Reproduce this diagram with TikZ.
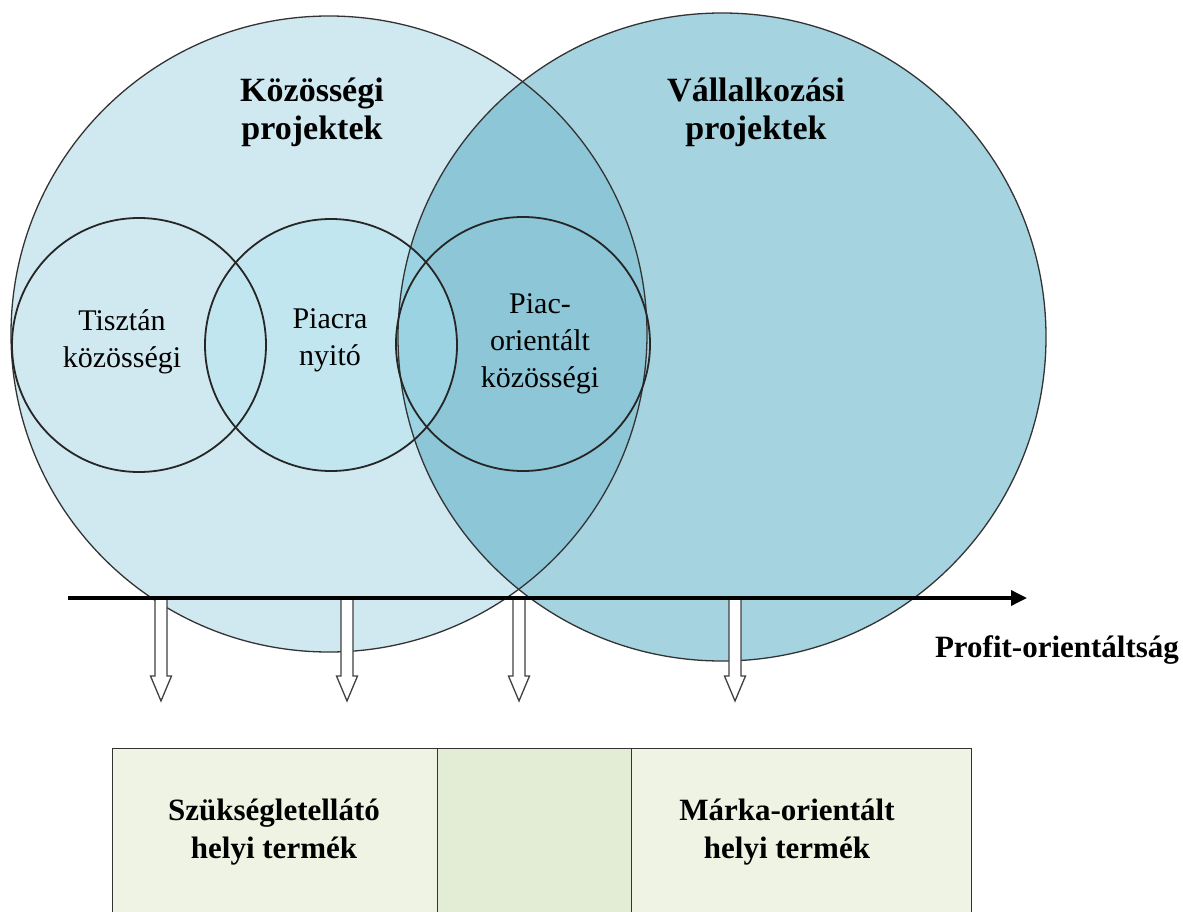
\documentclass[tikz,border=0pt]{standalone}
\usepackage{fontspec}
\setmainfont{Liberation Serif}
\usetikzlibrary{arrows.meta}
\definecolor{leftc}{HTML}{D0E8EF}
\definecolor{rightc}{HTML}{A6D3E0}
\definecolor{bothc}{HTML}{8CC6D7}
\definecolor{nyitoc}{RGB}{177,228,239}
\definecolor{boxa}{RGB}{239,243,227}
\definecolor{boxb}{RGB}{227,236,213}
\begin{document}
\begin{tikzpicture}[x=1pt,y=-1pt,
  bigline/.style={draw=black!80, line width=1.3pt},
  smallline/.style={draw=black!85, line width=1.8pt},
  lbl/.style={font=\fontsize{30}{37}\selectfont, align=center, inner sep=0pt},
  headlbl/.style={font=\bfseries\fontsize{34}{38}\selectfont, align=center, inner sep=0pt},
  boldlbl/.style={font=\bfseries\fontsize{31}{38}\selectfont, align=center, inner sep=0pt},
  hollow/.style={draw=black!75, line width=1.3pt, fill=white, line join=miter},
  boxstyle/.style={draw=black!80, line width=1.3pt, anchor=north west, inner sep=0pt, minimum height=220pt},
  downarrow/.pic={\draw[hollow] (-6,0) -- (-6,78) -- (-10.5,78) -- (0,103) -- (10.5,78) -- (6,78) -- (6,0) -- cycle;}]
\useasboundingbox (0,0) rectangle (1183,912);
% centres
\coordinate (L) at (329,334);
\coordinate (R) at (722,337);
\coordinate (T) at (139,345);
\coordinate (N) at (331,345);
\coordinate (P) at (523,344);
% big circles fills
\fill[leftc] (L) circle[radius=318pt];
\fill[rightc] (R) circle[radius=324pt];
\begin{scope}
  \clip (L) circle[radius=318pt];
  \fill[bothc] (R) circle[radius=324pt];
\end{scope}
\fill[nyitoc, fill opacity=0.46] (N) circle[radius=126pt];
% outlines
\draw[bigline] (L) circle[radius=318pt];
\draw[bigline] (R) circle[radius=324pt];
\draw[smallline] (T) circle[radius=127pt];
\draw[smallline] (N) circle[radius=126pt];
\draw[smallline] (P) circle[radius=127pt];
% labels
\node[headlbl] (kp) at (312,112) {Közösségi\\projektek};
\node[headlbl] (vp) at (756,112) {Vállalkozási\\projektek};
\node[lbl] (tk) at (122,342) {Tisztán\\közösségi};
\node[lbl] (pn) at (330,340) {Piacra\\nyitó};
\node[lbl] (pok) at (540,344) {Piac-\\orientált\\közösségi};
% down arrows
\coordinate (a1) at (161,598);
\coordinate (a2) at (347,598);
\coordinate (a3) at (519,598);
\coordinate (a4) at (735,598);
\pic at (a1) {downarrow};
\pic at (a2) {downarrow};
\pic at (a3) {downarrow};
\pic at (a4) {downarrow};
% axis
\coordinate (ax0) at (68,598);
\coordinate (ax1) at (1027,598);
\draw[line width=3.5pt, -{Triangle[length=16pt,width=15pt]}] (ax0) -- (ax1);
\node[boldlbl] (po) at (1057,650) {Profit-orientáltság};
% boxes
\node[boxstyle, fill=boxa, minimum width=325pt] (b1) at (112,748) {};
\node[boxstyle, fill=boxb, minimum width=194pt] (b2) at (437,748) {};
\node[boxstyle, fill=boxa, minimum width=340pt] (b3) at (631,748) {};
\node[boldlbl] (t1) at (274,832) {Szükségletellátó\\helyi termék};
\node[boldlbl] (t3) at (787,832) {Márka-orientált\\helyi termék};
\end{tikzpicture}
\end{document}
